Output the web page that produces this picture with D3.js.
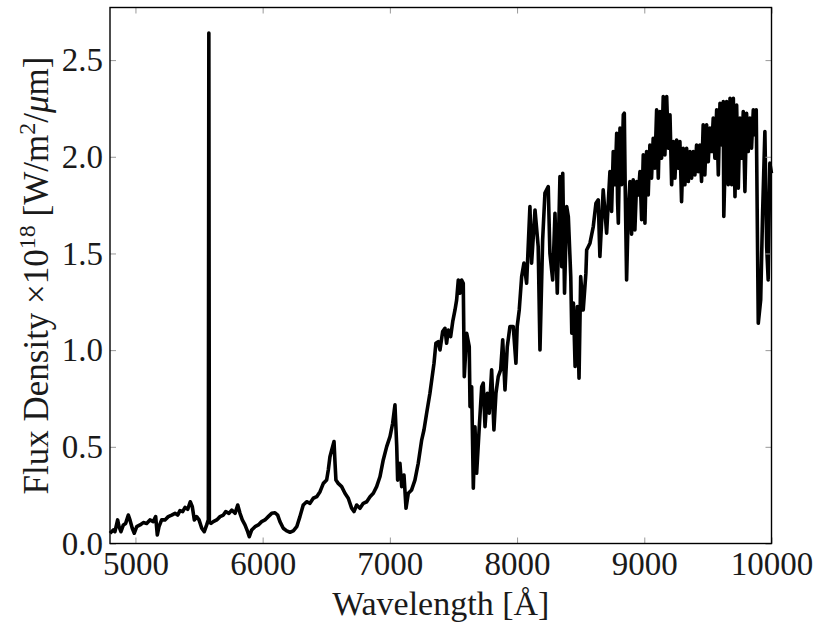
<!DOCTYPE html>
<html>
<head>
<meta charset="utf-8">
<script src="https://cdn.jsdelivr.net/npm/d3@7"></script>
<style>
  html, body { margin: 0; padding: 0; background: #fff; }
  svg { display: block; }
</style>
</head>
<body>
<svg id="chart" width="829" height="629"></svg>
<script>
// Spectrum: [wavelength (Å), flux density (×10^18 W/m²/μm)]
const spectrum = [
  [4800,0.053],[4826,0.070],[4839,0.061],[4860,0.122],[4871,0.087],[4886,0.061],[4905,0.096],[4923,0.104],
  [4944,0.147],[4957,0.122],[4975,0.079],[4991,0.053],[5010,0.087],[5036,0.096],[5062,0.108],[5088,0.104],
  [5114,0.122],[5140,0.113],[5159,0.139],[5172,0.044],[5185,0.087],[5206,0.122],[5232,0.122],[5258,0.139],
  [5285,0.147],[5311,0.156],[5332,0.147],[5350,0.170],[5371,0.165],[5390,0.187],[5411,0.177],[5431,0.216],
  [5447,0.190],[5463,0.122],[5481,0.139],[5500,0.122],[5521,0.079],[5541,0.061],[5560,0.096],[5573,0.122],
  [5577,2.640],[5581,0.110],[5594,0.104],[5612,0.113],[5639,0.122],[5665,0.139],[5691,0.147],[5710,0.165],
  [5735,0.156],[5757,0.173],[5783,0.156],[5804,0.199],[5822,0.156],[5840,0.122],[5861,0.096],[5882,0.061],
  [5895,0.035],[5914,0.070],[5940,0.087],[5966,0.096],[5992,0.113],[6018,0.122],[6044,0.139],[6071,0.156],
  [6097,0.159],[6118,0.147],[6136,0.113],[6162,0.079],[6189,0.065],[6215,0.058],[6241,0.065],[6268,0.087],
  [6293,0.139],[6319,0.199],[6346,0.216],[6372,0.208],[6398,0.234],[6425,0.242],[6451,0.268],[6477,0.311],
  [6503,0.328],[6516,0.380],[6529,0.449],[6543,0.484],[6561,0.527],[6569,0.415],[6576,0.328],[6594,0.311],
  [6621,0.294],[6647,0.260],[6673,0.234],[6700,0.182],[6718,0.165],[6739,0.199],[6765,0.182],[6791,0.208],
  [6818,0.216],[6844,0.242],[6870,0.260],[6896,0.294],[6922,0.345],[6948,0.432],[6975,0.501],[7001,0.553],
  [7022,0.622],[7040,0.717],[7054,0.501],[7061,0.328],[7079,0.415],[7093,0.294],[7111,0.354],[7127,0.182],
  [7145,0.260],[7171,0.277],[7197,0.328],[7223,0.415],[7250,0.535],[7268,0.587],[7289,0.674],[7315,0.777],
  [7347,0.932],[7362,1.036],[7380,1.044],[7394,1.001],[7415,1.096],[7433,1.113],[7446,1.036],[7459,1.104],
  [7478,1.070],[7494,1.147],[7512,1.208],[7525,1.260],[7538,1.363],[7551,1.294],[7564,1.363],[7577,1.346],
  [7585,0.863],[7604,1.087],[7624,1.018],[7630,0.708],[7643,0.811],[7656,0.286],[7669,0.604],[7682,0.363],
  [7703,0.604],[7722,0.811],[7734,0.829],[7748,0.604],[7766,0.777],[7781,0.674],[7800,0.898],[7818,0.587],
  [7834,0.777],[7852,0.863],[7871,0.898],[7887,1.053],[7905,0.794],[7923,1.018],[7944,1.122],[7970,1.122],
  [7991,0.932],[8001,1.122],[8017,1.208],[8036,1.380],[8054,1.450],[8075,1.346],[8101,1.742],[8114,1.450],
  [8141,1.725],[8166,1.535],[8180,1.001],[8201,1.570],[8219,1.812],[8245,1.846],[8258,1.501],[8280,1.363],
  [8298,1.708],[8316,1.294],[8337,1.898],[8351,1.432],[8359,1.915],[8373,1.294],[8390,1.742],[8403,1.690],
  [8422,1.380],[8430,1.087],[8443,1.243],[8456,0.915],[8474,1.225],[8487,0.855],[8500,1.380],[8520,1.208],
  [8541,1.398],[8547,1.518],[8573,1.553],[8599,1.639],[8620,1.760],[8638,1.777],[8651,1.484],[8677,1.829],
  [8704,1.605],
  [8730,1.923],[8743,1.717],[8756,2.027],[8770,1.855],[8783,2.122],[8790,1.768],[8796,1.656],[8809,2.148],
  [8822,1.855],[8835,2.217],[8843,2.225],[8850,1.837],[8861,1.363],[8874,1.717],[8887,1.872],[8900,1.600],
  [8913,1.881],[8926,1.622],[8940,1.872],[8953,1.803],[8966,1.923],[8979,1.674],[8992,2.010],[9005,1.656],
  [9018,2.027],[9031,1.803],[9044,2.061],[9057,1.889],[9070,2.096],[9083,1.941],[9097,2.243],[9110,1.889],
  [9123,2.234],[9136,1.993],[9149,2.311],[9162,2.010],[9176,2.311],[9189,2.044],[9202,2.217],[9215,1.855],
  [9228,2.079],[9241,1.889],[9254,2.087],[9267,1.941],[9280,2.079],[9293,1.768],[9306,2.044],[9319,1.855],
  [9333,2.044],[9346,1.872],[9359,2.027],[9372,1.889],[9385,2.027],[9398,1.906],[9411,2.061],[9424,1.923],
  [9437,2.061],[9450,1.872],[9463,2.165],[9476,1.906],[9490,2.165],[9503,1.975],[9516,2.148],[9529,2.027],
  [9542,2.200],[9555,1.993],[9569,2.243],[9582,1.906],[9595,2.277],[9608,2.061],[9621,2.286],[9625,1.691],
  [9647,2.286],[9660,1.855],[9674,2.303],[9687,1.855],[9700,2.303],[9713,1.794],[9726,2.268],[9739,1.837],
  [9752,2.200],[9765,1.993],[9778,2.234],[9791,1.820],[9804,2.225],[9817,2.027],[9830,2.200],[9843,2.044],
  [9857,2.243],[9870,2.113],[9880,2.243],[9896,1.139],[9915,1.260],[9930,1.708],[9948,2.130],[9962,1.535],
  [9974,1.363],[9987,1.967],[10000,1.915]
];
const xTicks = [5000, 6000, 7000, 8000, 9000, 10000];
const yTicks = [0.0, 0.5, 1.0, 1.5, 2.0, 2.5];
const xDomain = [4800, 10000];
const yDomain = [0, 2.772];
const xLabel = "Wavelength [Å]";

const FONT = '"Liberation Serif", "Tinos", "DejaVu Serif", serif';
const data = spectrum.map(([w, f]) => ({ w, f }));

const margin = { left: 110, right: 829 - 771.5, top: 7.5, bottom: 629 - 543.5 };
const W = 829, H = 629;
const pw = W - margin.left - margin.right;
const ph = H - margin.top - margin.bottom;

const svg = d3.select("#chart");
const g = svg.append("g").attr("transform", `translate(${margin.left},${margin.top})`);

const x = d3.scaleLinear().domain(xDomain).range([0, pw]);
const y = d3.scaleLinear().domain(yDomain).range([ph, 0]);

// line
const line = d3.line().x(d => x(d.w)).y(d => y(d.f));
g.append("path")
  .datum(data)
  .attr("d", line)
  .attr("fill", "none")
  .attr("stroke", "#000")
  .attr("stroke-width", 3.6)
  .attr("stroke-linejoin", "round")
  .attr("stroke-linecap", "butt");

// axes
function styleAxis(sel, showText) {
  sel.select(".domain").remove();
  sel.selectAll(".tick line").attr("stroke", "#999").attr("stroke-width", 1);
  if (!showText) sel.selectAll(".tick text").remove();
  else sel.selectAll(".tick text")
          .style("font-family", FONT).style("font-size", "33px").style("fill", "#1a1a1a");
}

const gx = g.append("g").attr("transform", `translate(0,${ph})`)
  .call(d3.axisBottom(x).tickValues(xTicks).tickFormat(d3.format("d")).tickSizeInner(-6).tickSizeOuter(0).tickPadding(8));
styleAxis(gx, true);

const gxt = g.append("g")
  .call(d3.axisTop(x).tickValues(xTicks).tickSizeInner(-6).tickSizeOuter(0));
styleAxis(gxt, false);

const gy = g.append("g")
  .call(d3.axisLeft(y).tickValues(yTicks).tickFormat(d3.format(".1f")).tickSizeInner(-6).tickSizeOuter(0).tickPadding(7));
styleAxis(gy, true);

const gyr = g.append("g").attr("transform", `translate(${pw},0)`)
  .call(d3.axisRight(y).tickValues(yTicks).tickSizeInner(-6).tickSizeOuter(0));
styleAxis(gyr, false);

// frame
g.append("rect")
  .attr("x", 0).attr("y", 0).attr("width", pw).attr("height", ph)
  .attr("fill", "none").attr("stroke", "#000").attr("stroke-width", 1.4);

// x label
svg.append("text")
  .attr("x", margin.left + pw / 2)
  .attr("y", 615)
  .attr("text-anchor", "middle")
  .style("font-family", FONT).style("font-size", "34px").style("fill", "#1a1a1a")
  .text(xLabel);

// y label
const yl = svg.append("text")
  .attr("transform", `translate(48,${margin.top + ph / 2}) rotate(-90)`)
  .attr("text-anchor", "middle")
  .style("font-family", FONT).style("font-size", "35px").style("fill", "#1a1a1a");
yl.append("tspan").text("Flux Density ×10");
yl.append("tspan").style("font-size", "24px").attr("dy", -13).text("18");
yl.append("tspan").attr("dy", 13).text(" [W/m");
yl.append("tspan").style("font-size", "24px").attr("dy", -13).text("2");
yl.append("tspan").attr("dy", 13).text("/");
yl.append("tspan").style("font-style", "italic").text("μ");
yl.append("tspan").text("m]");
</script>
</body>
</html>
